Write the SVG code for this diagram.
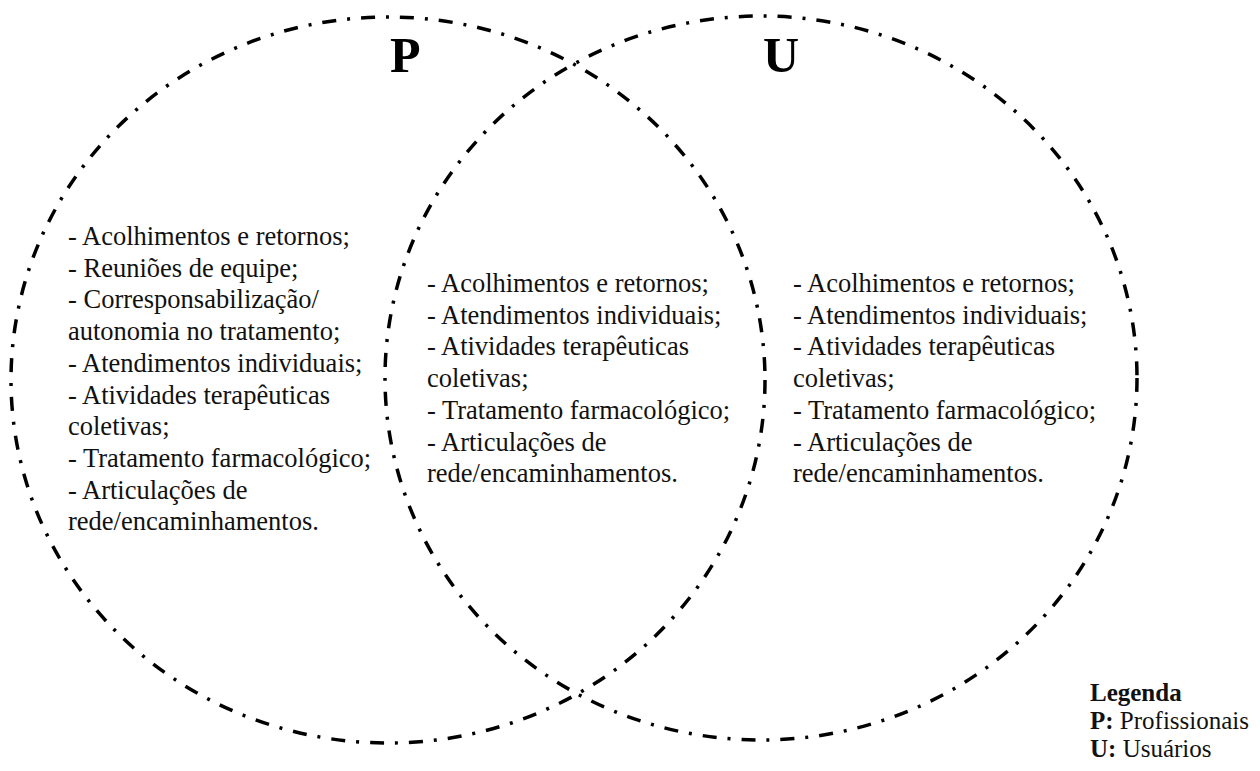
<svg xmlns="http://www.w3.org/2000/svg" width="1260" height="771" viewBox="0 0 1260 771">
<style>
.ring{fill:none;stroke:#000;stroke-width:3.5;stroke-dasharray:14 11 3 11}
.t{font-family:"Liberation Serif","Times New Roman",serif;font-size:26.5px;fill:#111}
.lg{font-family:"Liberation Serif","Times New Roman",serif;font-size:25px;fill:#111}
.big{font-family:"Liberation Serif","Times New Roman",serif;font-size:50px;font-weight:bold;fill:#000}
.b{font-weight:bold}
</style>
<rect width="1260" height="771" fill="#fff"/>
<g id="circles">
<ellipse id="circleP" class="ring" cx="388" cy="380" rx="377" ry="363"/>
<ellipse id="circleU" class="ring" cx="761" cy="378" rx="376" ry="362"/>
</g>
<g id="labelP"><text class="big" x="390" y="72">P</text></g>
<g id="labelU"><text class="big" x="763" y="72">U</text></g>
<g id="textP">
<text class="t" x="68" y="245">- Acolhimentos e retornos;</text>
<text class="t" x="68" y="276.7">- Reuniões de equipe;</text>
<text class="t" x="68" y="308.4">- Corresponsabilização/</text>
<text class="t" x="68" y="340">autonomia no tratamento;</text>
<text class="t" x="68" y="371.8">- Atendimentos individuais;</text>
<text class="t" x="68" y="403.5">- Atividades terapêuticas</text>
<text class="t" x="68" y="435.2">coletivas;</text>
<text class="t" x="68" y="467">- Tratamento farmacológico;</text>
<text class="t" x="68" y="498.6">- Articulações de</text>
<text class="t" x="68" y="530.3">rede/encaminhamentos.</text>
</g>
<g id="textPU">
<text class="t" x="427" y="292">- Acolhimentos e retornos;</text>
<text class="t" x="427" y="323.7">- Atendimentos individuais;</text>
<text class="t" x="427" y="355.4">- Atividades terapêuticas</text>
<text class="t" x="427" y="387.1">coletivas;</text>
<text class="t" x="427" y="418.8">- Tratamento farmacológico;</text>
<text class="t" x="427" y="450.5">- Articulações de</text>
<text class="t" x="427" y="482.2">rede/encaminhamentos.</text>
</g>
<g id="textU">
<text class="t" x="793" y="292">- Acolhimentos e retornos;</text>
<text class="t" x="793" y="323.7">- Atendimentos individuais;</text>
<text class="t" x="793" y="355.4">- Atividades terapêuticas</text>
<text class="t" x="793" y="387.1">coletivas;</text>
<text class="t" x="793" y="418.8">- Tratamento farmacológico;</text>
<text class="t" x="793" y="450.5">- Articulações de</text>
<text class="t" x="793" y="482.2">rede/encaminhamentos.</text>
</g>
<g id="legend">
<text class="lg b" x="1090" y="701">Legenda</text>
<text class="lg" x="1090" y="729"><tspan class="b">P:</tspan> Profissionais</text>
<text class="lg" x="1090" y="757"><tspan class="b">U:</tspan> Usuários</text>
</g>
</svg>
